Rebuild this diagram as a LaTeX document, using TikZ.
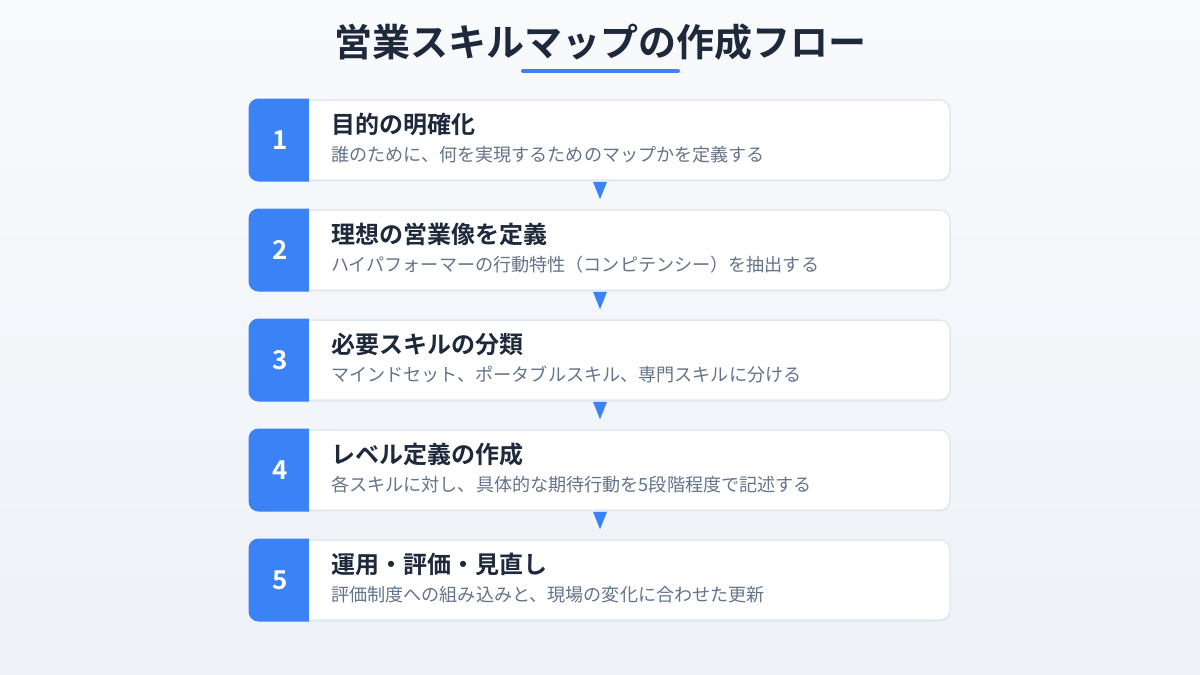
\documentclass[tikz,border=0pt]{standalone}
\usepackage{fontspec}
\setmainfont{Noto Sans CJK JP}[BoldFont=* Bold]
\usetikzlibrary{calc}
\definecolor{bgtop}{HTML}{F8FAFC}
\definecolor{bgbot}{HTML}{EEF2F7}
\definecolor{accent}{HTML}{3B82F6}
\definecolor{titlec}{HTML}{1E293B}
\definecolor{subc}{HTML}{64748B}
\definecolor{borderc}{HTML}{E2E8F0}
\tikzset{
  stepbox/.style={draw=borderc, line width=1.5pt, fill=white, rounded corners=10pt,
    minimum width=700pt, minimum height=80pt, inner sep=0pt},
  numtext/.style={text=white, font=\bfseries\fontsize{26}{30}\selectfont, inner sep=0pt},
  headtext/.style={text=titlec, font=\bfseries\fontsize{24}{28}\selectfont, anchor=west, inner sep=0pt},
  subtext/.style={text=subc, font=\fontsize{18.1}{22}\selectfont, anchor=west, inner sep=0pt},
  flowarrow/.style={fill=accent},
}
\begin{document}
\begin{tikzpicture}[x=1pt,y=1pt]
\useasboundingbox (0,0) rectangle (1200,-675);
\shade[top color=bgtop, bottom color=bgbot] (0,0) rectangle (1200,-675);
\node[text=titlec, font=\bfseries\fontsize{38}{44}\selectfont, inner sep=0pt] (title) at (600,-42) {営業スキルマップの作成フロー};
\draw[accent, line width=4pt, line cap=round] (523,-71) -- (678,-71);
\foreach \i/\h/\s in {
  1/目的の明確化/誰のために、何を実現するためのマップかを定義する,
  2/理想の営業像を定義/ハイパフォーマーの行動特性（コンピテンシー）を抽出する,
  3/必要スキルの分類/マインドセット、ポータブルスキル、専門スキルに分ける,
  4/レベル定義の作成/各スキルに対し、具体的な期待行動を5段階程度で記述する,
  5/運用・評価・見直し/評価制度への組み込みと、現場の変化に合わせた更新}{
  \pgfmathsetmacro{\yc}{-140-110*(\i-1)}
  \fill[black, opacity=0.03, rounded corners=10pt] (250.5,\yc+38) rectangle (950.5,\yc-42);
  \node[stepbox] (b\i) at (600,\yc) {};
  \begin{scope}
    \clip[rounded corners=10pt] ($(b\i.south west)+(-0.75,-0.75)$) rectangle ($(b\i.north east)+(0.75,0.75)$);
    \fill[accent] ($(b\i.south west)+(-1,-1)$) rectangle ($(b\i.north west)+(60,1)$);
  \end{scope}
  \node[numtext] (n\i) at (280,\yc) {\i};
  \node[headtext] (h\i) at (331,\yc+16) {\h};
  \node[subtext] (s\i) at (331,\yc-15) {\s};
}
\foreach \i [evaluate=\i as \j using int(\i+1)] in {1,2,3,4}{
  \fill[flowarrow] ($(b\i.south)+(-7,-1)$) -- ($(b\i.south)+(7,-1)$) -- ($(b\j.north)+(0,10)$) -- cycle;
}
\end{tikzpicture}
\end{document}
